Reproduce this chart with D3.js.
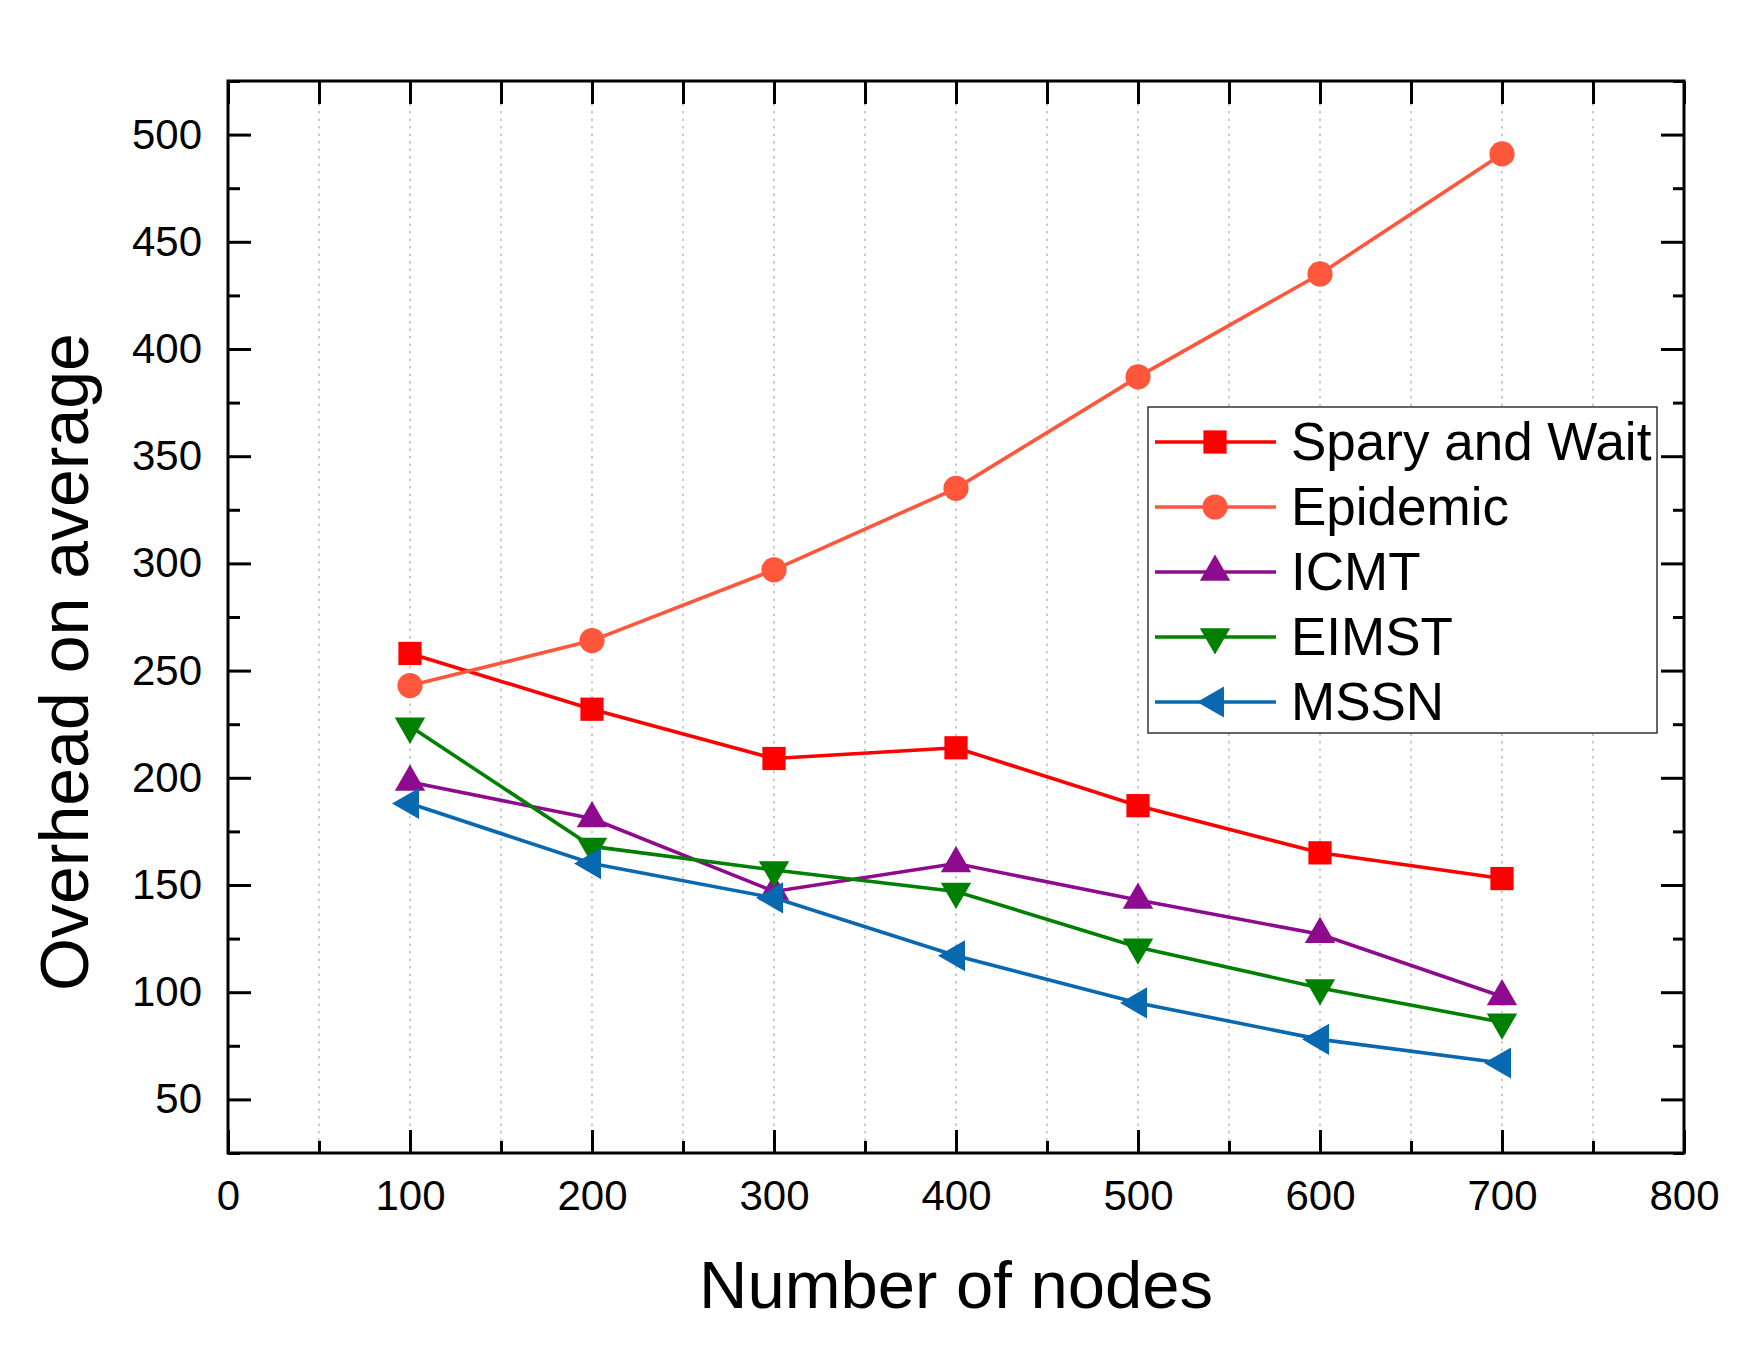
<!DOCTYPE html>
<html>
<head>
<meta charset="utf-8">
<script src="https://cdn.jsdelivr.net/npm/d3@7"></script>
<style>
  body { margin: 0; background: #fff; }
  svg { display: block; }
  text { font-family: "Liberation Sans", Arial, sans-serif; fill: #000; }
</style>
</head>
<body>
<svg id="chart"></svg>
<script>
// values
var nodes = [100, 200, 300, 400, 500, 600, 700]
var sparyWait = [258, 232, 209, 214, 187, 165, 153]
var epidemic = [243, 264, 297, 335, 387, 435, 491]
var icmt = [198, 181, 147, 160, 143, 127, 98]
var eimst = [224, 168, 157, 147, 121, 102, 86]
var mssn = [188, 160, 144, 117, 95, 78, 67]

var seriesNames = ["Spary and Wait", "Epidemic", "ICMT", "EIMST", "MSSN"]
var xTicks = [0, 100, 200, 300, 400, 500, 600, 700, 800]
var xMinor = [50, 150, 250, 350, 450, 550, 650, 750]
var yTicks = [50, 100, 150, 200, 250, 300, 350, 400, 450, 500]
var yMinor = [25, 75, 125, 175, 225, 275, 325, 375, 425, 475, 525]

var dimensions = {
    width: 1752,
    height: 1361,
    margin: { top: 81, bottom: 208, left: 228, right: 68 }
}

var styles = [
    { color: "#ff0000", symbol: d3.symbolSquare, size: 540, rotate: 0 },
    { color: "#ff573c", symbol: d3.symbolCircle, size: 500, rotate: 0 },
    { color: "#8e0a8e", symbol: d3.symbolTriangle, size: 400, rotate: 0 },
    { color: "#008000", symbol: d3.symbolTriangle, size: 400, rotate: 180 },
    { color: "#0868b0", symbol: d3.symbolTriangle, size: 420, rotate: -90 }
]

var dataset = [sparyWait, epidemic, icmt, eimst, mssn].map(function(vals, i) {
    return { name: seriesNames[i], style: styles[i], points: nodes.map((n, j) => ({ x: n, y: vals[j] })) }
})

var svg = d3.select("#chart")
            .attr("width", dimensions.width)
            .attr("height", dimensions.height)

var plotLeft = dimensions.margin.left
var plotRight = dimensions.width - dimensions.margin.right
var plotTop = dimensions.margin.top
var plotBottom = dimensions.height - dimensions.margin.bottom

var xScale = d3.scaleLinear()
               .domain([0, 800])
               .range([plotLeft, plotRight])

var yScale = d3.scaleLinear()
               .domain([25, 525])
               .range([plotBottom, plotTop])

// dotted vertical grid
svg.append("g")
   .selectAll("line")
   .data(xMinor.concat(xTicks.slice(1, -1)))
   .enter()
   .append("line")
   .attr("x1", d => xScale(d))
   .attr("x2", d => xScale(d))
   .attr("y1", plotTop)
   .attr("y2", plotBottom)
   .attr("stroke", "#bdbdbd")
   .attr("stroke-width", 1.6)
   .attr("stroke-dasharray", "2.5,5")

function drawAxis(gen, transform, labels) {
    var g = svg.append("g")
               .attr("transform", transform)
               .call(gen)
    g.select(".domain").remove()
    g.selectAll(".tick line").attr("stroke", "#000").attr("stroke-width", 3)
    if (labels) {
        g.selectAll(".tick text")
         .style("font-family", '"Liberation Sans", Arial, sans-serif')
         .style("font-size", "42px")
         .attr("fill", "#000")
    } else {
        g.selectAll(".tick text").remove()
    }
    return g
}

// bottom
drawAxis(d3.axisBottom(xScale).tickValues(xTicks).tickSize(-23).tickPadding(27).tickFormat(d3.format("d")),
         `translate(0,${plotBottom})`, true)
drawAxis(d3.axisBottom(xScale).tickValues(xMinor).tickSize(-12), `translate(0,${plotBottom})`, false)
// top
drawAxis(d3.axisTop(xScale).tickValues(xMinor.concat(xTicks)).tickSize(-23), `translate(0,${plotTop})`, false)
// left
drawAxis(d3.axisLeft(yScale).tickValues(yTicks).tickSize(-23).tickPadding(26).tickFormat(d3.format("d")),
         `translate(${plotLeft},0)`, true)
drawAxis(d3.axisLeft(yScale).tickValues(yMinor).tickSize(-12), `translate(${plotLeft},0)`, false)
// right
drawAxis(d3.axisRight(yScale).tickValues(yTicks).tickSize(-23), `translate(${plotRight},0)`, false)
drawAxis(d3.axisRight(yScale).tickValues(yMinor).tickSize(-11), `translate(${plotRight},0)`, false)

// frame
svg.append("rect")
   .attr("x", plotLeft)
   .attr("y", plotTop)
   .attr("width", plotRight - plotLeft)
   .attr("height", plotBottom - plotTop)
   .attr("fill", "none")
   .attr("stroke", "#000")
   .attr("stroke-width", 3)

var lineGen = d3.line()
                .x(d => xScale(d.x))
                .y(d => yScale(d.y))

dataset.forEach(function(s) {
    var g = svg.append("g")
    g.append("path")
     .attr("d", lineGen(s.points))
     .attr("fill", "none")
     .attr("stroke", s.style.color)
     .attr("stroke-width", 3.6)
    g.selectAll("path.marker")
     .data(s.points)
     .enter()
     .append("path")
     .attr("class", "marker")
     .attr("d", d3.symbol().type(s.style.symbol).size(s.style.size))
     .attr("transform", d => `translate(${xScale(d.x)},${yScale(d.y)}) rotate(${s.style.rotate})`)
     .attr("fill", s.style.color)
})

// legend
var legend = svg.append("g")
legend.append("rect")
      .attr("x", 1148)
      .attr("y", 407)
      .attr("width", 509)
      .attr("height", 326)
      .attr("fill", "#fff")
      .attr("stroke", "#333")
      .attr("stroke-width", 1.5)

var rows = legend.selectAll("g.row")
                 .data(dataset)
                 .enter()
                 .append("g")
                 .attr("class", "row")
                 .attr("transform", (d, i) => `translate(0,${442 + i * 65})`)

rows.append("line")
    .attr("x1", 1155)
    .attr("x2", 1276)
    .attr("stroke", d => d.style.color)
    .attr("stroke-width", 3.6)

rows.append("path")
    .attr("d", d => d3.symbol().type(d.style.symbol).size(d.style.size)())
    .attr("transform", d => `translate(1215,0) rotate(${d.style.rotate})`)
    .attr("fill", d => d.style.color)

rows.append("text")
    .attr("x", 1291)
    .attr("y", 18)
    .style("font-size", "53px")
    .text(d => d.name)

// axis titles
svg.append("text")
   .attr("x", (plotLeft + plotRight) / 2)
   .attr("y", 1308)
   .attr("text-anchor", "middle")
   .style("font-size", "67px")
   .text("Number of nodes")

svg.append("text")
   .attr("transform", "translate(88,662) rotate(-90)")
   .attr("text-anchor", "middle")
   .style("font-size", "68px")
   .text("Overhead on average")
</script>
</body>
</html>
